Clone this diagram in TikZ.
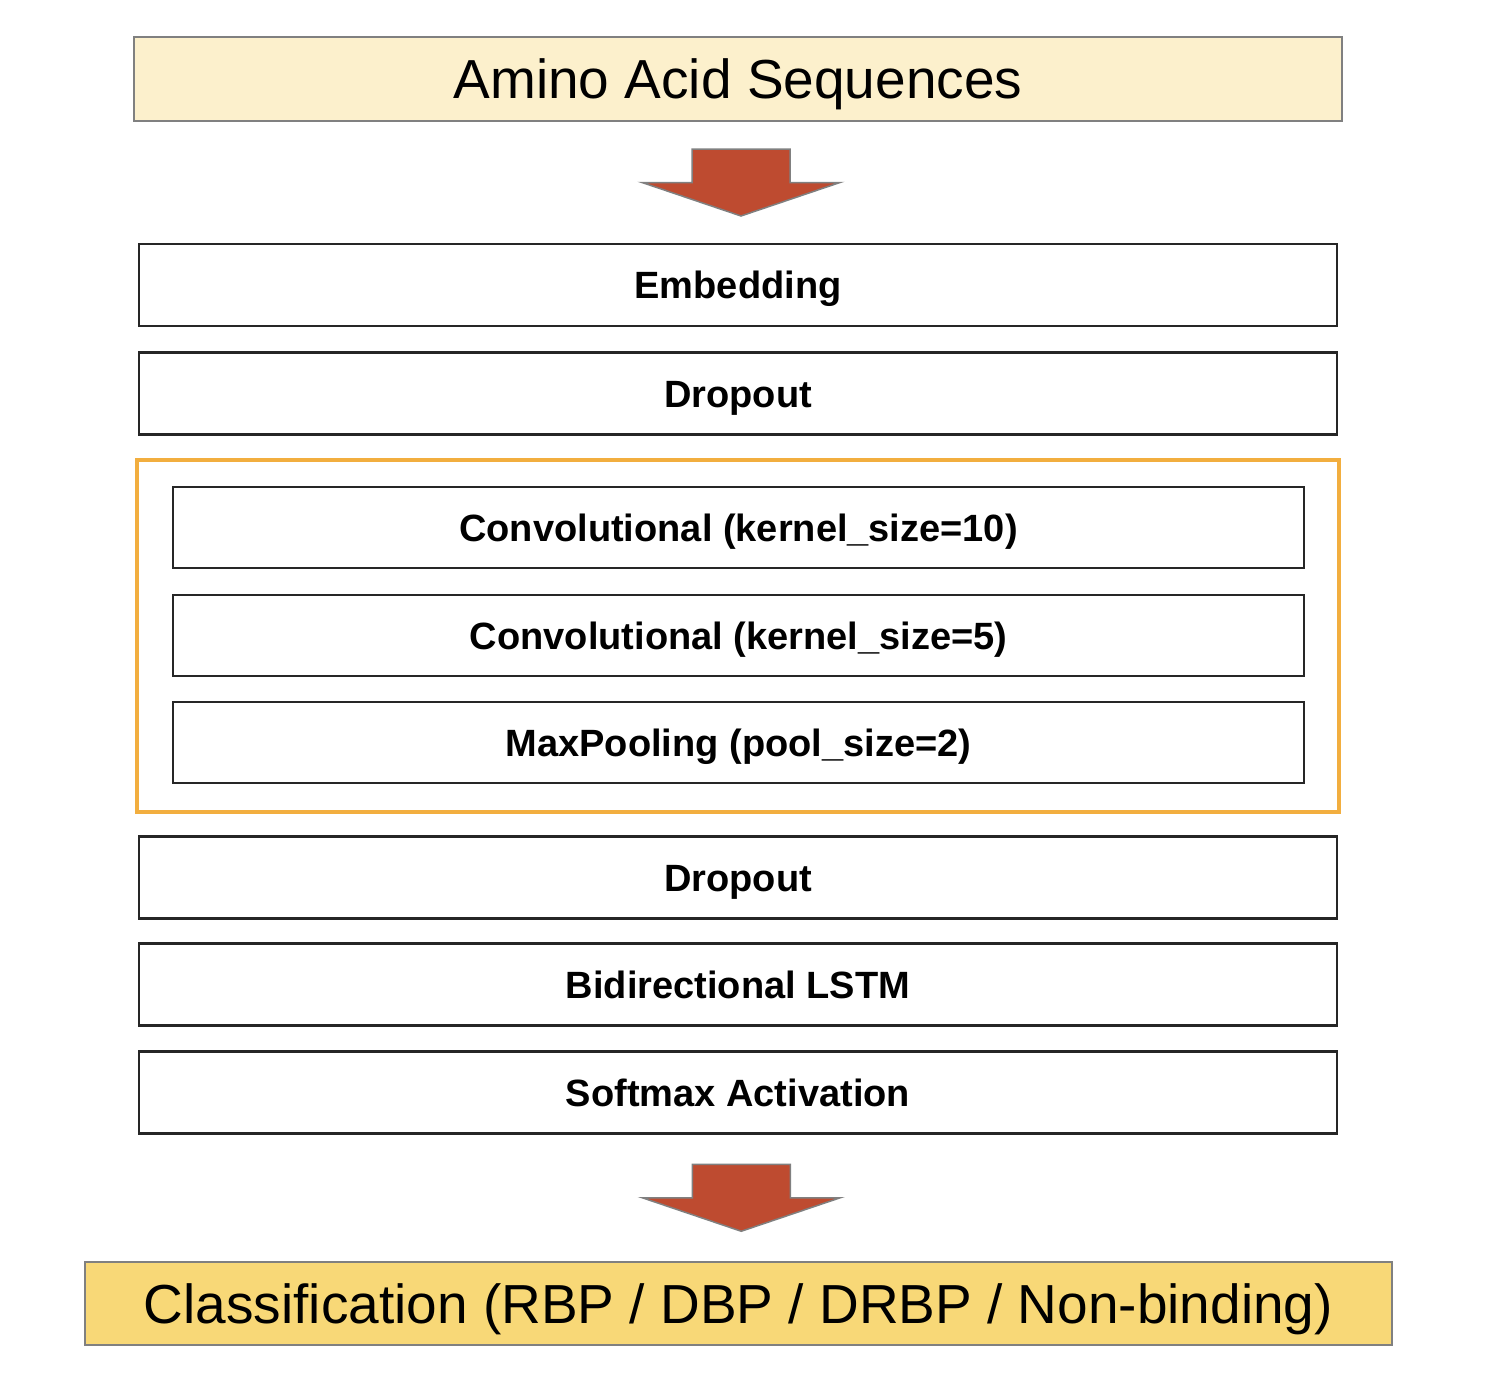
\documentclass[tikz,border=0pt]{standalone}
\usepackage{fontspec}
\setmainfont{Liberation Sans}
\usetikzlibrary{calc}
\definecolor{topfill}{HTML}{FCF0CC}
\definecolor{botfill}{HTML}{F8D877}
\definecolor{framecol}{HTML}{F2AE3F}
\definecolor{arrowfill}{HTML}{BE4B30}
\definecolor{edgegray}{HTML}{808080}
\begin{document}
\begin{tikzpicture}[x=1pt,y=1pt,
  layerbox/.style={draw=black!85, line width=2.5pt, fill=white, minimum width=1198pt, minimum height=82pt, inner sep=0pt, text height=27pt, text depth=0pt, font=\fontsize{38}{40}\selectfont\bfseries},
  innerbox/.style={layerbox, minimum width=1131pt, minimum height=81pt},
  iobox/.style={draw=edgegray, line width=2.5pt, inner sep=0pt, minimum height=84pt, text height=39pt, text depth=0pt, font=\fontsize{55}{60}\selectfont},
  framebox/.style={draw=framecol, line width=4pt, minimum width=1202pt, minimum height=352pt, inner sep=0pt},
  blockarrow/.style={draw=edgegray, line width=1.5pt, fill=arrowfill, line join=miter}
]
\useasboundingbox (0,0) rectangle (1496,-1398);
\fill[white] (0,0) rectangle (1496,-1398);

\node[iobox, fill=topfill, minimum width=1208pt] (in) at (738,-79) {Amino Acid Sequences};
\node[layerbox] (emb) at (738,-285) {Embedding};
\node[layerbox] (drop1) at (738,-393.5) {Dropout};
\node[framebox] (frame) at (738,-636) {};
\node[innerbox] (conv10) at (738.5,-527.5) {Convolutional (kernel\_size=10)};
\node[innerbox] (conv5) at (738.5,-635.5) {Convolutional (kernel\_size=5)};
\node[innerbox] (pool) at (738.5,-742.5) {MaxPooling (pool\_size=2)};
\node[layerbox] (drop2) at (738,-877.5) {Dropout};
\node[layerbox] (lstm) at (738,-984.5) {Bidirectional LSTM};
\node[layerbox] (soft) at (738,-1092.5) {Softmax Activation};
\node[iobox, fill=botfill, minimum width=1307pt, minimum height=83pt] (out) at (738.5,-1303.5) {Classification (RBP / DBP / DRBP / Non-binding)};

\coordinate (a1) at ($(in.south)!0.5!(emb.north)+(3,0)$);
\coordinate (a2) at ($(soft.south)!0.5!(out.north)+(3,0)$);
\foreach \c in {a1,a2}{
  \draw[blockarrow] ([shift={(-49,33.5)}]\c) -- ([shift={(49,33.5)}]\c) -- ([shift={(49,0)}]\c) -- ([shift={(99,0)}]\c) -- ([shift={(0,-33.5)}]\c) -- ([shift={(-99,0)}]\c) -- ([shift={(-49,0)}]\c) -- cycle;
}
\end{tikzpicture}
\end{document}
